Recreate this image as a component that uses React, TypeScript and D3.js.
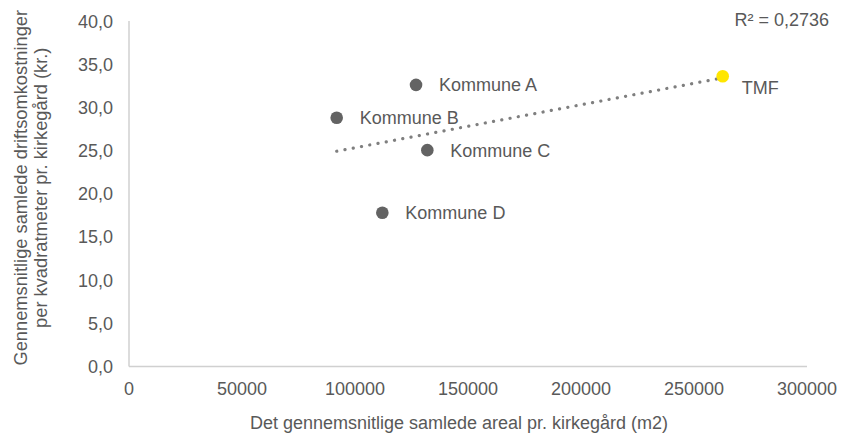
import React from "react";
import * as d3 from "d3";

const names = ["Kommune A", "Kommune B", "Kommune C", "Kommune D", "TMF"];
const areas = [127000, 91900, 132000, 112100, 262700];
const costs = [32.6, 28.8, 25.05, 17.8, 33.6];
const xTicks = [0, 50000, 100000, 150000, 200000, 250000, 300000];
const yTicks = [0, 5, 10, 15, 20, 25, 30, 35, 40];
const r2Label = "R² = 0,2736";
const xTitle = "Det gennemsnitlige samlede areal pr. kirkegård (m2)";
const yTitleLines = ["Gennemsnitlige samlede driftsomkostninger", "per kvadratmeter pr. kirkegård (kr.)"];

const W = 841;
const H = 433;
const FONT = "'Liberation Sans', Arial, sans-serif";
const TEXT = "#595959";

export default function App() {
  const x = d3.scaleLinear().domain([0, 300000]).range([129, 807]);
  const y = d3.scaleLinear().domain([0, 40]).range([366.5, 21]);
  const fmtY = (v: number) => d3.format(".1f")(v).replace(".", ",");

  // least squares trendline
  const mx = d3.mean(areas)!;
  const my = d3.mean(costs)!;
  let sxy = 0, sxx = 0;
  areas.forEach((a, i) => { sxy += (a - mx) * (costs[i] - my); sxx += (a - mx) ** 2; });
  const slope = sxy / sxx;
  const icpt = my - slope * mx;
  const [x0, x1] = d3.extent(areas) as [number, number];
  const line = d3.line<number>().x((d) => x(d)).y((d) => y(icpt + slope * d));

  const labelOffset = (n: string) => (n === "TMF" ? [19, 18] : [23, 6.5]);

  return (
    <svg width={W} height={H} style={{ position: "absolute", left: 0, top: 0, background: "#fff" }} fontFamily={FONT}>
      <rect width={W} height={H} fill="#fff" />
      <line x1={x(0)} x2={x(0)} y1={y(40)} y2={y(0)} stroke="#d0d0d0" strokeWidth={1.5} />
      <line x1={x(0)} x2={x(300000)} y1={y(0)} y2={y(0)} stroke="#d0d0d0" strokeWidth={1.5} />
      {yTicks.map((t) => (
        <text key={"y" + t} x={113} y={y(t) + 6.5} textAnchor="end" fontSize={18} fill={TEXT}>
          {fmtY(t)}
        </text>
      ))}
      {xTicks.map((t) => (
        <text key={"x" + t} x={x(t)} y={394.5} textAnchor="middle" fontSize={18} fill={TEXT}>
          {t}
        </text>
      ))}
      <text x={(x(0) + x(300000)) / 2 - 9} y={428.5} textAnchor="middle" fontSize={18} fill={TEXT}>
        {xTitle}
      </text>
      {yTitleLines.map((l, i) => (
        <text
          key={l}
          transform={`translate(${27 + i * 19.5},${(y(0) + y(40)) / 2 - 6}) rotate(-90)`}
          textAnchor="middle"
          fontSize={18.3}
          fill={TEXT}
        >
          {l}
        </text>
      ))}
      <path d={line([x0, x1]) || ""} fill="none" stroke="#7f7f7f" strokeWidth={3.2} strokeDasharray="0.1 8.3" strokeLinecap="round" />
      {names.map((n, i) => (
        <circle key={n} cx={x(areas[i])} cy={y(costs[i])} r={6.3} fill={n === "TMF" ? "#FFE600" : "#636363"} />
      ))}
      {names.map((n, i) => {
        const [dx, dy] = labelOffset(n);
        return (
          <text key={"l" + n} x={x(areas[i]) + dx} y={y(costs[i]) + dy} fontSize={18} fill={TEXT}>
            {n}
          </text>
        );
      })}
      <text x={829} y={25.5} textAnchor="end" fontSize={18} fill={TEXT}>
        {r2Label}
      </text>
    </svg>
  );
}
